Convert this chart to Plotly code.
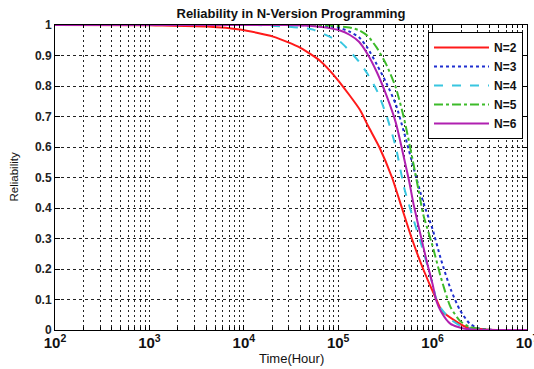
import plotly.graph_objects as go

# ---- data ----
# x values are log10 of time in hours; y values are reliability
n2_logt = [2.0, 3.0, 3.14, 3.61, 3.96, 4.31, 4.6, 4.81, 4.99, 5.23, 5.32, 5.435, 5.57, 5.675, 5.78, 5.9, 6.04, 6.1, 6.24, 6.36, 6.6, 7.0]
n2_rel = [1.0, 0.999, 0.998, 0.995, 0.985, 0.962, 0.925, 0.882, 0.822, 0.722, 0.667, 0.6, 0.5, 0.4, 0.3, 0.2, 0.1, 0.062, 0.03, 0.009, 0.001, 0.0]

n3_logt = [2.0, 4.53, 4.73, 4.92, 5.02, 5.12, 5.22, 5.31, 5.41, 5.51, 5.61, 5.70, 5.80, 5.90, 6.00, 6.09, 6.19, 6.29, 6.39, 6.48, 6.68, 7.0]
n3_rel = [1.0, 1.0, 0.998, 0.995, 0.99, 0.978, 0.96, 0.925, 0.87, 0.81, 0.74, 0.645, 0.53, 0.42, 0.33, 0.23, 0.135, 0.065, 0.022, 0.006, 0.0, 0.0]

n4_logt = [2.0, 4.14, 4.24, 4.53, 4.73, 4.92, 5.02, 5.12, 5.22, 5.31, 5.41, 5.51, 5.61, 5.70, 5.80, 5.90, 6.00, 6.04, 6.09, 6.19, 6.32, 6.58, 7.0]
n4_rel = [1.0, 1.0, 0.998, 0.993, 0.985, 0.96, 0.945, 0.915, 0.88, 0.84, 0.785, 0.705, 0.6, 0.465, 0.36, 0.26, 0.15, 0.1, 0.07, 0.035, 0.01, 0.001, 0.0]

n5_logt = [2.0, 4.73, 4.92, 5.12, 5.22, 5.31, 5.41, 5.51, 5.61, 5.70, 5.80, 5.85, 5.90, 6.00, 6.09, 6.19, 6.29, 6.39, 6.58, 7.0]
n5_rel = [1.0, 1.0, 0.998, 0.992, 0.983, 0.965, 0.925, 0.87, 0.795, 0.69, 0.54, 0.46, 0.38, 0.275, 0.17, 0.075, 0.03, 0.01, 0.001, 0.0]

n6_logt = [2.0, 4.44, 4.63, 4.83, 5.02, 5.12, 5.22, 5.31, 5.41, 5.51, 5.61, 5.70, 5.75, 5.80, 5.90, 5.95, 6.00, 6.04, 6.09, 6.19, 6.34, 6.58, 7.0]
n6_rel = [1.0, 1.0, 0.998, 0.993, 0.982, 0.968, 0.945, 0.905, 0.845, 0.77, 0.68, 0.56, 0.49, 0.41, 0.275, 0.21, 0.15, 0.095, 0.06, 0.02, 0.004, 0.0, 0.0]

series_names = ["N=2", "N=3", "N=4", "N=5", "N=6"]
x_range_log = [2, 7]
y_ticks = [0, 0.1, 0.2, 0.3, 0.4, 0.5, 0.6, 0.7, 0.8, 0.9, 1]

# ---- styles ----
styles = [
    dict(color="#ff1a1a", dash="solid", width=2),
    dict(color="#1f2fd0", dash="dot", width=2),
    dict(color="#38c6e0", dash="dash", width=2),
    dict(color="#3dbb2a", dash="dashdot", width=2),
    dict(color="#b020b0", dash="solid", width=2),
]

data = [(n2_logt, n2_rel), (n3_logt, n3_rel), (n4_logt, n4_rel), (n5_logt, n5_rel), (n6_logt, n6_rel)]

fig = go.Figure()
for (lt, rel), name, st in zip(data, series_names, styles):
    fig.add_trace(go.Scatter(
        x=[10 ** v for v in lt], y=rel, name=name, mode="lines",
        line=dict(color=st["color"], dash=st["dash"], width=st["width"], shape="spline", smoothing=0.6),
    ))

font_family = "Liberation Sans, Arial, sans-serif"

# plot area: x 55..527 px, y 24.5..330 px
PL, PR, PT, PB = 55, 527, 24.5, 330
W, H = 534, 369
pw, ph = PR - PL, PB - PT

fig.update_layout(
    width=W, height=H,
    margin=dict(l=PL, r=W - PR, t=PT, b=H - PB, autoexpand=False),
    paper_bgcolor="white", plot_bgcolor="white",
    title=dict(text="Reliability in N-Version Programming", x=0.5, xref="paper", xanchor="center",
               y=1 - 13 / H, yref="container", yanchor="middle",
               font=dict(family=font_family, size=13, color="#111", weight="bold")),
    showlegend=True,
    legend=dict(x=(428 - PL) / pw, y=(PB - 31.5) / ph, xanchor="left", yanchor="top",
                bgcolor="white", bordercolor="black", borderwidth=1, itemwidth=55,
                font=dict(family=font_family, size=12, color="#111", weight="bold"), tracegroupgap=0),
    font=dict(family=font_family, color="#111"),
)

fig.update_xaxes(
    type="log", range=x_range_log, dtick=1, exponentformat="power", automargin=False,
    showline=True, linecolor="black", linewidth=1, mirror="ticks",
    ticks="inside", ticklen=5, tickcolor="black", ticklabeloverflow="allow",
    tickfont=dict(family=font_family, size=12, color="#111", weight="bold"),
    showgrid=True, gridcolor="#222", gridwidth=1, griddash="2px,3px",
    minor=dict(dtick="D1", showgrid=True, gridcolor="#222", gridwidth=1, griddash="2px,3px",
               ticks="inside", ticklen=3, tickcolor="black"),
    zeroline=False,
)
fig.update_yaxes(
    range=[0, 1], tickvals=y_ticks, automargin=False,
    showline=True, linecolor="black", linewidth=1, mirror="ticks",
    ticks="inside", ticklen=5, tickcolor="black",
    tickfont=dict(family=font_family, size=12, color="#222", weight="bold"),
    showgrid=True, gridcolor="#222", gridwidth=1, griddash="3px,3px",
    zeroline=False,
)

fig.add_annotation(text="Time(Hour)", xref="paper", yref="paper", x=0.5, y=(PB - 359) / ph,
                   showarrow=False, xanchor="center", yanchor="middle",
                   font=dict(family=font_family, size=13, color="#111"))
fig.add_annotation(text="Reliability", xref="paper", yref="paper", x=(13 - PL) / pw, y=0.5,
                   textangle=-90, showarrow=False, xanchor="center", yanchor="middle",
                   font=dict(family=font_family, size=11.5, color="#111"))

fig.write_html("out.html", config={"displayModeBar": False},
               post_script="document.body.style.margin='0';")
